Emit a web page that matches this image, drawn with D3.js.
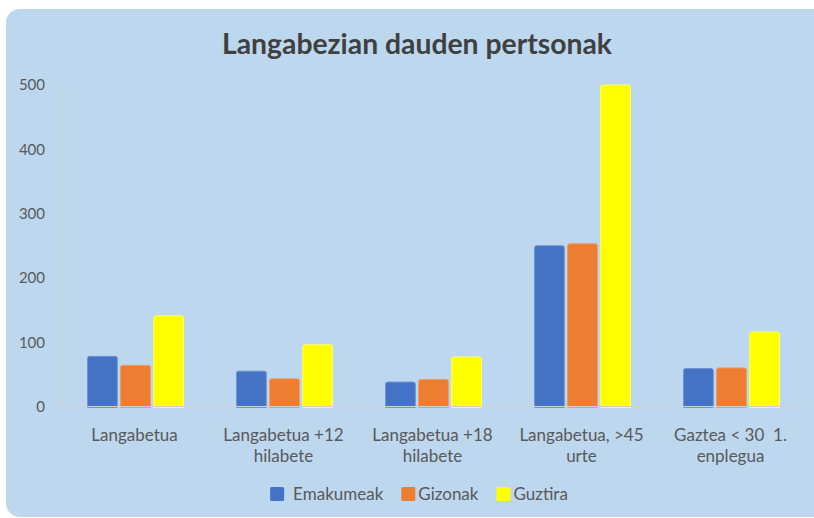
<!DOCTYPE html>
<html>
<head>
<meta charset="utf-8">
<script src="https://cdn.jsdelivr.net/npm/d3@7"></script>
<style>
  html, body { margin: 0; padding: 0; background: #ffffff; }
  svg { display: block; font-family: Lato, "Open Sans", sans-serif; }
  text { white-space: pre; }
</style>
</head>
<body>
<div id="view"></div>
<script>
'use strict';

const categories = [
  ['Langabetua'],
  ['Langabetua +12', 'hilabete'],
  ['Langabetua +18', 'hilabete'],
  ['Langabetua, >45', 'urte'],
  ['Gaztea < 30  1.', 'enplegua']
];
const seriesNames = ['Emakumeak', 'Gizonak', 'Guztira'];
const emakumeak = [78, 55, 38, 250, 59];
const gizonak = [64, 43, 42, 253, 60];
const guztira = [141, 96, 77, 500, 116];
const yTicks = [0, 100, 200, 300, 400, 500];

const size = { w: 814, h: 518 };
const plot = { left: 60, right: 805, top: 85, bottom: 406.5 };

const presentation = {
  fill_panel: '#BDD7EE',
  fill_series: ['#4472C4', '#ED7D31', '#FFFF00'],
  stroke_series: ['#6f93d4', '#f29a5e', '#ffff66'],
  stroke_axis: '#D0D0D0',
  fill_title: '#404040',
  fill_text: '#595959'
};

const series = [emakumeak, gizonak, guztira];
const rows = categories.map((c, i) => ({
  idx: i,
  values: series.map((s, k) => ({ k: k, v: s[i] }))
}));

const svg = d3.select('#view').append('svg')
  .attr('width', size.w)
  .attr('height', size.h);

svg.append('rect')
  .attr('x', 6)
  .attr('y', 9)
  .attr('width', 840)
  .attr('height', 508)
  .attr('rx', 14)
  .attr('fill', presentation.fill_panel);

// title, fitted to the width it has in the picture
const title = svg.append('text')
  .attr('x', 417)
  .attr('y', 54)
  .attr('text-anchor', 'middle')
  .attr('font-weight', 700)
  .attr('font-size', 24)
  .attr('fill', presentation.fill_title)
  .text('Langabezian dauden pertsonak');
const tw = title.node().getComputedTextLength();
title.attr('font-size', 24 * 390 / tw);

const x = d3.scaleBand()
  .domain(d3.range(categories.length))
  .range([plot.left, plot.right]);

const xInner = d3.scaleBand()
  .domain(d3.range(seriesNames.length))
  .range([0, 96])
  .paddingInner(0.1);

const y = d3.scaleLinear()
  .domain([0, 500])
  .range([plot.bottom, plot.top]);

// y axis
const yAxis = svg.append('g')
  .attr('transform', `translate(${plot.left},0)`)
  .call(d3.axisLeft(y).tickValues(yTicks).tickSize(0).tickPadding(15));
yAxis.select('.domain').attr('stroke', presentation.stroke_axis);
yAxis.selectAll('text')
  .attr('font-family', 'Lato, "Open Sans", sans-serif')
  .attr('font-size', 15)
  .attr('fill', presentation.fill_text);

function barPath(x0, y0, w, h, r) {
  r = Math.min(r, h / 2);
  return `M${x0},${y0 + h}V${y0 + r}Q${x0},${y0} ${x0 + r},${y0}` +
    `H${x0 + w - r}Q${x0 + w},${y0} ${x0 + w},${y0 + r}V${y0 + h}Z`;
}

const groups = svg.append('g').selectAll('g')
  .data(rows)
  .enter()
  .append('g')
  .attr('transform', d => `translate(${x(d.idx) + (x.bandwidth() - 96) / 2 + 1},0)`);

groups.selectAll('path')
  .data(d => d.values)
  .enter()
  .append('path')
  .attr('d', d => barPath(xInner(d.k), y(d.v), xInner.bandwidth(), y(0) - y(d.v) + 1, 2))
  .attr('fill', d => presentation.fill_series[d.k])
  .attr('stroke', d => presentation.stroke_series[d.k])
  .attr('stroke-width', 1);

// x axis line
svg.append('line')
  .attr('x1', plot.left)
  .attr('x2', plot.right)
  .attr('y1', plot.bottom)
  .attr('y2', plot.bottom)
  .attr('stroke', presentation.stroke_axis);

// category labels
const labels = svg.append('g').selectAll('text')
  .data(categories)
  .enter()
  .append('text')
  .attr('x', (d, i) => x(i) + x.bandwidth() / 2)
  .attr('y', 441)
  .attr('text-anchor', 'middle')
  .attr('font-size', 17)
  .attr('fill', presentation.fill_text);
labels.selectAll('tspan')
  .data(d => d)
  .enter()
  .append('tspan')
  .attr('x', function() { return d3.select(this.parentNode).attr('x'); })
  .attr('dy', (d, i) => i === 0 ? 0 : 21)
  .text(d => d);

// legend
const legend = svg.append('g');
let lx = 0;
seriesNames.forEach((name, k) => {
  legend.append('rect')
    .attr('x', lx)
    .attr('y', 487)
    .attr('width', 14)
    .attr('height', 14)
    .attr('rx', 1.5)
    .attr('fill', presentation.fill_series[k]);
  const t = legend.append('text')
    .attr('x', lx + 17 + (k === 0 ? 6 : 0))
    .attr('y', 500)
    .attr('font-size', 17)
    .attr('fill', presentation.fill_text)
    .text(name);
  lx += 17 + (k === 0 ? 6 : 0) + t.node().getComputedTextLength() + 18;
});
legend.attr('transform', `translate(${419 - (lx - 18) / 2},0)`);
</script>
</body>
</html>
